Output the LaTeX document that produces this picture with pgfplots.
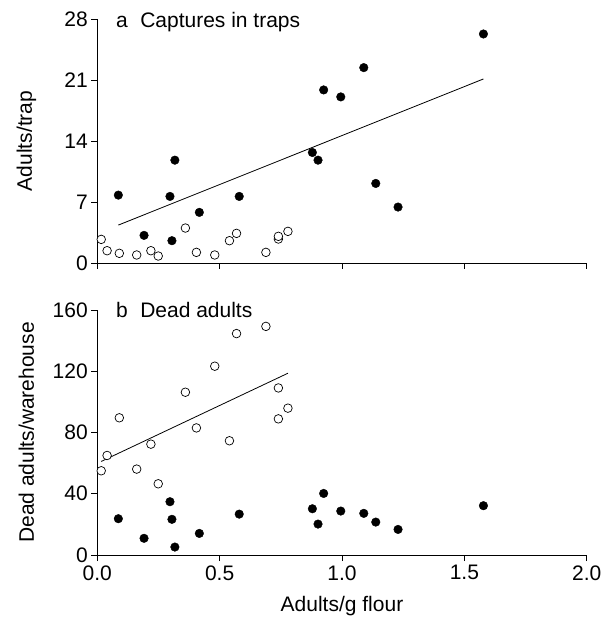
\documentclass[border=0pt]{standalone}
\usepackage{fontspec}
\setmainfont{Liberation Sans}
\usepackage{pgfplots}
\pgfplotsset{compat=1.18}
\pgfplotsset{
  myax/.style={
    scale only axis, width=489.4pt,
    xmin=0, xmax=2,
    axis x line*=bottom, axis y line*=left,
    axis line style={-, line width=0.8pt},
    every tick/.style={black, line width=0.8pt},
    tick align=outside, major tick length=6pt,
    xtick={0,0.5,1,1.5,2},
    /pgf/number format/assume math mode=true,
    tick label style={font=\fontsize{21}{25}\selectfont},
    label style={font=\fontsize{21}{25}\selectfont},
    xticklabel style={yshift=-1pt, /pgf/number format/.cd, fixed, fixed zerofill, precision=1},
    clip=false,
    enlargelimits=false,
  },
  filled/.style={only marks, mark=*, mark size=4.3pt, mark options={fill=black, draw=black}},
  open/.style={only marks, mark=*, mark size=4.3pt, mark options={fill=white, draw=black, line width=0.7pt}},
  fit/.style={no marks, black, line width=0.8pt},
}
\begin{document}
\begin{tikzpicture}[font=\fontsize{21}{25}\selectfont]
\useasboundingbox (0,0) rectangle (614pt,621pt);
% ---------------- panel a
\begin{axis}[myax, height=244pt, at={(97.3pt,358pt)}, anchor=south west,
  ymin=0, ymax=28, ytick={0,7,14,21,28}, xticklabels={},
  ylabel={Adults/trap},
  ylabel style={at={(axis description cs:-0.145,0.5)}, anchor=center}]
\addplot[fit] coordinates {(0.086,4.35) (1.578,21.12)};
\addplot[open] coordinates {
(0.016,2.71) (0.040,1.41) (0.090,1.11) (0.161,0.92) (0.219,1.41)
(0.249,0.80) (0.360,4.01) (0.405,1.22) (0.480,0.92) (0.540,2.56)
(0.569,3.40) (0.689,1.22) (0.740,2.75) (0.740,3.06) (0.779,3.63)};
\addplot[filled] coordinates {
(0.086,7.79) (0.191,3.17) (0.297,7.64) (0.317,11.80) (0.305,2.56)
(0.417,5.81) (0.580,7.64) (0.879,12.68) (0.902,11.80) (0.925,19.86)
(0.995,19.06) (1.089,22.42) (1.138,9.13) (1.229,6.42) (1.578,26.28)};
\node[anchor=base west, font=\fontsize{21}{25}\selectfont] at (rel axis cs:0.031,0.966) {a\hspace{0.6em}Captures in traps};
\end{axis}
% ---------------- panel b
\begin{axis}[myax, height=245pt, at={(97.3pt,66pt)}, anchor=south west,
  ymin=0, ymax=160, ytick={0,40,80,120,160},
  xlabel={Adults/g flour},
  xlabel style={at={(axis description cs:0.5,-0.208)}, anchor=center},
  ylabel={Dead adults/warehouse},
  ylabel style={at={(axis description cs:-0.145,0.5)}, anchor=center}]
\addplot[fit] coordinates {(0.016,61.1) (0.779,118.7)};
\addplot[open] coordinates {
(0.016,55.0) (0.040,65.0) (0.090,89.6) (0.161,56.1) (0.219,72.4)
(0.249,46.5) (0.360,106.3) (0.405,83.0) (0.480,123.3) (0.540,74.6)
(0.569,144.6) (0.689,149.3) (0.740,109.1) (0.740,88.9) (0.779,95.9)};
\addplot[filled] coordinates {
(0.086,23.7) (0.191,10.9) (0.297,34.8) (0.305,23.3) (0.317,5.2)
(0.417,14.1) (0.580,26.7) (0.879,30.2) (0.902,20.2) (0.925,40.2)
(0.995,28.7) (1.089,27.2) (1.138,21.5) (1.229,16.7) (1.578,32.2)};
\node[anchor=base west, font=\fontsize{21}{25}\selectfont] at (rel axis cs:0.031,0.971) {b\hspace{0.6em}Dead adults};
\end{axis}
\end{tikzpicture}
\end{document}
